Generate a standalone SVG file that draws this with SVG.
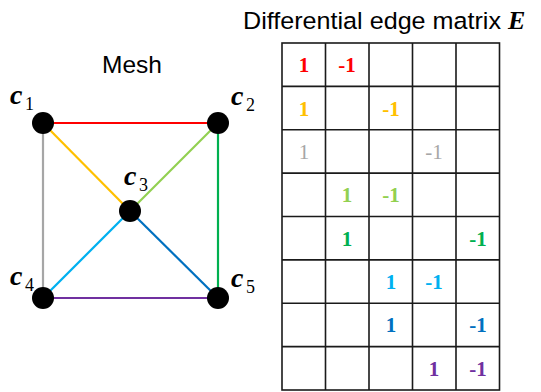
<svg xmlns="http://www.w3.org/2000/svg" width="541" height="392" viewBox="0 0 541 392">
<style>
.title{font-family:"Liberation Sans",Arial,sans-serif;font-size:24.5px;fill:#000}
.edge{stroke-width:2.2;fill:none}
.node{fill:#000}
.lc{font-family:"Liberation Serif","Times New Roman",serif;font-weight:bold;font-style:italic;font-size:28px;fill:#000}
.ls{font-family:"Liberation Serif","Times New Roman",serif;font-size:18px;fill:#000}
.grid{stroke:#1a1a1a;stroke-width:1.6;fill:none}
.num{font-family:"Liberation Serif","Times New Roman",serif;font-weight:bold;font-size:21px;text-anchor:middle}
</style>
<rect width="541" height="392" fill="#fff"/>
<text class="title" x="102" y="73">Mesh</text>
<text class="title" x="243" y="29"><tspan textLength="258" lengthAdjust="spacingAndGlyphs">Differential edge matrix</tspan><tspan x="508" font-family="Liberation Serif, serif" font-weight="bold" font-style="italic" font-size="26">E</tspan></text>
<g id="connectors">
<line class="edge" stroke="#FF0000" x1="43" y1="123" x2="218" y2="123"/>
<line class="edge" stroke="#FFC000" x1="43" y1="123" x2="130" y2="211"/>
<line class="edge" stroke="#A6A6A6" x1="43" y1="123" x2="43" y2="298"/>
<line class="edge" stroke="#92D050" x1="218" y1="123" x2="130" y2="211"/>
<line class="edge" stroke="#00B050" x1="218" y1="123" x2="218" y2="298"/>
<line class="edge" stroke="#00B0F0" x1="130" y1="211" x2="43" y2="298"/>
<line class="edge" stroke="#0070C0" x1="130" y1="211" x2="218" y2="298"/>
<line class="edge" stroke="#7030A0" x1="43" y1="298" x2="218" y2="298"/>
</g>
<g id="c1"><circle class="node" cx="43" cy="123" r="11"/><text class="lc" x="10" y="104">c</text><text class="ls" x="25" y="110">1</text></g>
<g id="c2"><circle class="node" cx="218" cy="123" r="11"/><text class="lc" x="231" y="105">c</text><text class="ls" x="246" y="111">2</text></g>
<g id="c3"><circle class="node" cx="130" cy="211" r="11"/><text class="lc" x="124" y="185">c</text><text class="ls" x="139" y="191">3</text></g>
<g id="c4"><circle class="node" cx="43" cy="298" r="11"/><text class="lc" x="10" y="285">c</text><text class="ls" x="25" y="291">4</text></g>
<g id="c5"><circle class="node" cx="218" cy="298" r="11"/><text class="lc" x="231" y="287">c</text><text class="ls" x="246" y="293">5</text></g>
<g id="matrix">
<rect class="grid" x="282" y="43" width="217.5" height="347"/>
<path class="grid" d="M325.5 43V390M369 43V390M412.5 43V390M456 43V390M282 86.4H499.5M282 129.8H499.5M282 173.1H499.5M282 216.5H499.5M282 259.9H499.5M282 303.3H499.5M282 346.6H499.5"/>
<g class="num">
<text x="304" y="72" fill="#FF0000">1</text><text x="347" y="72" fill="#FF0000">-1</text>
<text x="304" y="115.5" fill="#FFC000">1</text><text x="391" y="115.5" fill="#FFC000">-1</text>
<text x="304" y="159" fill="#A6A6A6" font-weight="normal">1</text><text x="434" y="159" fill="#A6A6A6" font-weight="normal">-1</text>
<text x="347" y="202" fill="#92D050">1</text><text x="391" y="202" fill="#92D050">-1</text>
<text x="347" y="245.5" fill="#00B050">1</text><text x="478" y="245.5" fill="#00B050">-1</text>
<text x="391" y="289" fill="#00B0F0">1</text><text x="434" y="289" fill="#00B0F0">-1</text>
<text x="391" y="332" fill="#0070C0">1</text><text x="478" y="332" fill="#0070C0">-1</text>
<text x="434" y="375.5" fill="#7030A0">1</text><text x="478" y="375.5" fill="#7030A0">-1</text>
</g>
</g>
</svg>
